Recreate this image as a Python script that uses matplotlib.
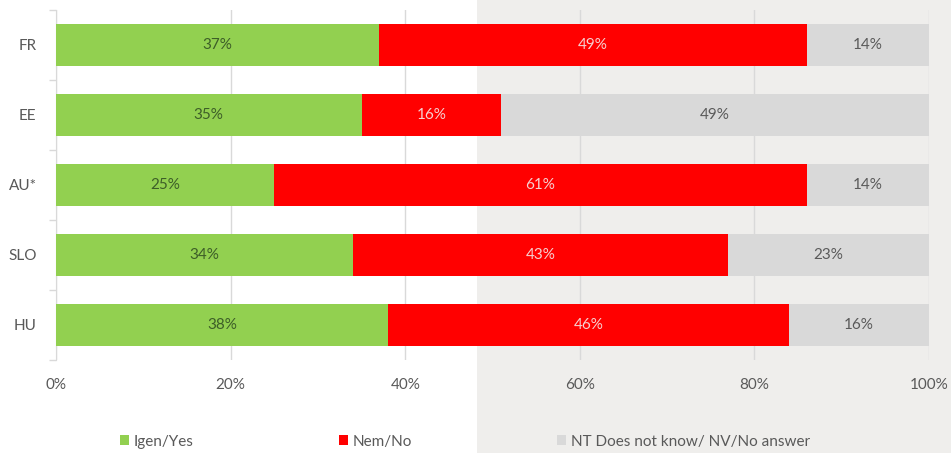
import matplotlib
matplotlib.use("Agg")
import matplotlib.pyplot as plt
from matplotlib.patches import Rectangle
import numpy as np

categories = ["FR", "EE", "AU*", "SLO", "HU"]
yes = [37, 35, 25, 34, 38]
no = [49, 16, 61, 43, 46]
dk = [14, 49, 14, 23, 16]
series_names = ["Igen/Yes", "Nem/No", "NT Does not know/ NV/No answer"]
xticks = [0, 20, 40, 60, 80, 100]

colors = ["#92d050", "#ff0000", "#d9d9d9"]
text_colors = ["#3d5e28", "#f6d0d0", "#5a5a5a"]

plt.rcParams['font.family'] = ['Lato', 'DejaVu Sans']
FS = 11

fig = plt.figure(figsize=(9.51, 4.53), dpi=100)
fig.patches.append(Rectangle((0.5016, 0), 0.5, 1, transform=fig.transFigure,
                             facecolor="#efeeec", edgecolor="none", zorder=-10))
ax = fig.add_axes([0.0589, 0.2053, 0.918, 0.7727])
ax.patch.set_alpha(0)

y = np.arange(len(categories))
left = np.zeros(len(categories))
for vals, c, tc, name in zip([yes, no, dk], colors, text_colors, series_names):
    bars = ax.barh(y, vals, left=left, height=0.6, color=c, label=name, zorder=3)
    for b, v in zip(bars, vals):
        ax.text(b.get_x() + b.get_width() / 2, b.get_y() + b.get_height() / 2,
                f"{v}%", ha="center", va="center", color=tc, fontsize=FS, zorder=4)
    left = left + np.array(vals)

ax.set_xlim(0, 100)
ax.set_ylim(len(categories) - 0.5, -0.5)
ax.set_xticks(xticks)
ax.set_xticklabels([f"{t}%" for t in xticks])
ax.xaxis.grid(True, color="#d9d9d9", linewidth=1, zorder=0)
ax.set_axisbelow(True)
ax.tick_params(axis="x", length=0, pad=13, labelsize=FS, labelcolor="#595959")
ax.set_yticks(y)
ax.set_yticklabels(categories)
ax.tick_params(axis="y", length=0, pad=14, labelsize=FS, labelcolor="#595959")
ax.set_yticks(np.arange(-0.5, len(categories), 1.0), minor=True)
ax.tick_params(axis="y", which="minor", length=5, color="#d9d9d9", width=1)
for s in ["top", "right", "bottom"]:
    ax.spines[s].set_visible(False)
ax.spines["left"].set_color("#d9d9d9")

fig.legend(loc="center", bbox_to_anchor=(0.489, 0.025), ncol=3, frameon=False,
           fontsize=FS, labelcolor="#595959", handlelength=0.6, handleheight=0.6,
           handletextpad=0.3, columnspacing=9.5)

fig.savefig("out.png", dpi=100)
